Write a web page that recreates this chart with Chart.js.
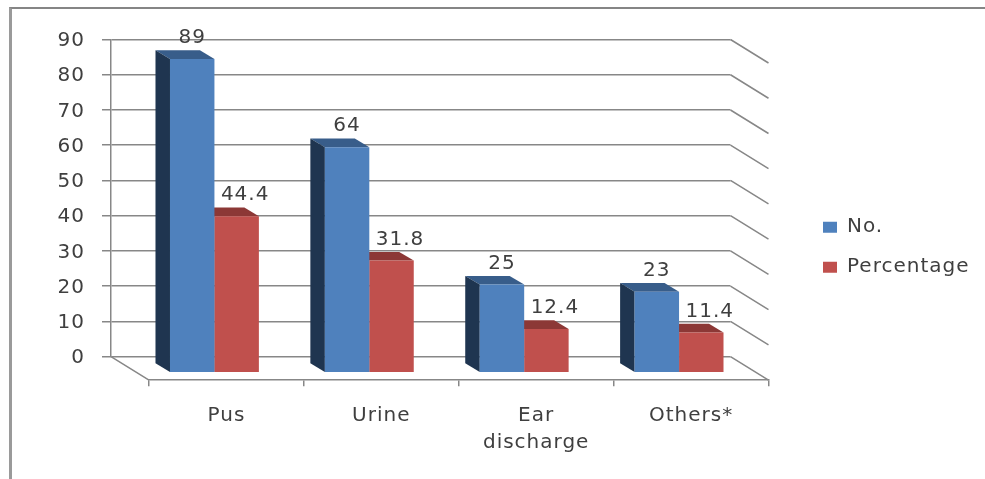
<!DOCTYPE html>
<html>
<head>
<meta charset="utf-8">
<title>Samples</title>
<style>
    html, body { margin: 0; padding: 0; background: #fff; overflow: hidden; }
    #wrap { position: relative; width: 985px; height: 479px; }
    #bars { position: absolute; left: 0; top: 0; filter: blur(0.4px); }
    #frame { position: absolute; left: 9px; top: 7px; right: 0; bottom: 0; border-left: 3px solid #9a9a9a; border-top: 2px solid #858585; }
</style>
<script src="https://cdn.jsdelivr.net/npm/chart.js@4/dist/chart.umd.min.js"></script>
</head>
<body>
<div id="wrap">
    <div id="frame"></div>
    <canvas id="bars" width="985" height="479"></canvas>
</div>
<script>
const categories = ['Pus', 'Urine', ['Ear', 'discharge'], 'Others*'];
const counts = [89, 64, 25, 23];
const percentages = [44.4, 31.8, 12.4, 11.4];
const yTickStep = 10;
const yMax = 90;

const gridColor = '#878787';
const textColor = '#3f3f3f';
const font = { family: 'DejaVu Sans', size: 20 };

// fake 3D: how far the floor and the bars sit in front of the back wall
const wallDx = 38, wallDy = 23.5;
const barDx = 26, barDy = 16;
const sideDx = 14.5, sideDy = 8.7;

const barFaces = [
    { top: '#385d8a', side: '#1f3550' },
    { top: '#8c3836', side: '#8c3836' }
];

function polygon(ctx, color, pts) {
    ctx.fillStyle = color;
    ctx.beginPath();
    pts.forEach((p, i) => i ? ctx.lineTo(p[0], p[1]) : ctx.moveTo(p[0], p[1]));
    ctx.closePath();
    ctx.fill();
}

const fake3d = {
    id: 'fake3d',
    beforeUpdate(chart) {
        chart.ctx.letterSpacing = '1px';
    },
    beforeDraw(chart) {
        chart.ctx.letterSpacing = '1px';
    },
    afterLayout(chart) {
        // front edge of the floor is the category axis, moved forward
        const front = chart.scales.xFront;
        front.left += wallDx;
        front.right += wallDx;
        front.top += wallDy;
        front.bottom += wallDy;
        front.configure();
        // legend clips to its own box, so move the whole box
        const legend = chart.legend;
        const w = legend.right - legend.left;
        legend.left = 803;
        legend.right = 803 + w;
        legend.top -= 12;
        legend.bottom -= 12;
    },
    beforeDatasetsDraw(chart) {
        const ctx = chart.ctx, y = chart.scales.y, area = chart.chartArea;
        ctx.save();
        ctx.strokeStyle = gridColor;
        ctx.lineWidth = 1.5;
        ctx.beginPath();
        y.ticks.forEach(t => {
            const py = y.getPixelForValue(t.value);
            ctx.moveTo(area.right, py);
            ctx.lineTo(area.right + wallDx, py + wallDy);
        });
        ctx.moveTo(area.left, area.bottom);
        ctx.lineTo(area.left + wallDx, area.bottom + wallDy);
        ctx.stroke();
        ctx.restore();
    },
    beforeDatasetDraw(chart, args) {
        const ctx = chart.ctx, faces = barFaces[args.index];
        ctx.save();
        ctx.translate(barDx, barDy);
        args.meta.data.forEach(bar => {
            const l = bar.x - bar.width / 2, r = bar.x + bar.width / 2;
            polygon(ctx, faces.top, [[l, bar.y], [r, bar.y], [r - sideDx, bar.y - sideDy], [l - sideDx, bar.y - sideDy]]);
            polygon(ctx, faces.side, [[l, bar.y], [l - sideDx, bar.y - sideDy], [l - sideDx, bar.base - sideDy], [l, bar.base]]);
        });
    },
    afterDatasetDraw(chart) {
        chart.ctx.restore();
    },
    afterDatasetsDraw(chart) {
        const ctx = chart.ctx;
        ctx.save();
        ctx.font = `${font.size}px "${font.family}"`;
        ctx.fillStyle = textColor;
        ctx.textAlign = 'center';
        ctx.textBaseline = 'middle';
        chart.data.datasets.forEach((ds, i) => {
            chart.getDatasetMeta(i).data.forEach((bar, j) => {
                const nudge = i === 1 ? 8.5 : 0;
                ctx.fillText(String(ds.data[j]), bar.x + barDx + nudge, bar.y + barDy - 21);
            });
        });
        ctx.restore();
    }
};

new Chart(document.getElementById('bars'), {
    type: 'bar',
    data: {
        labels: categories,
        datasets: [
            { label: 'No.', data: counts, backgroundColor: '#4f81bd', borderWidth: 0 },
            { label: 'Percentage', data: percentages, backgroundColor: '#c0504d', borderWidth: 0 }
        ]
    },
    options: {
        responsive: false,
        animation: false,
        devicePixelRatio: 1,
        layout: { padding: { left: 51, top: 39.5, right: 78, bottom: 0 } },
        datasets: { bar: { categoryPercentage: 0.574, barPercentage: 1 } },
        plugins: {
            tooltip: { enabled: false },
            legend: {
                position: 'right',
                labels: { boxWidth: 14, boxHeight: 11, padding: 20, color: textColor, font }
            }
        },
        scales: {
            x: { display: false, offset: true },
            xFront: {
                type: 'category',
                axis: 'x',
                position: 'bottom',
                offset: true,
                grid: { offset: true, drawOnChartArea: false, tickLength: 6, color: gridColor, lineWidth: 1.5 },
                border: { color: gridColor, width: 1.5 },
                ticks: { color: textColor, font: { ...font, lineHeight: 1.35 }, padding: 16, maxRotation: 0, autoSkip: false },
                afterFit: s => { s.height = 122.3; }
            },
            y: {
                min: 0,
                max: yMax,
                grid: { tickLength: 9, color: gridColor, lineWidth: 1.5 },
                border: { color: gridColor, width: 1.5 },
                ticks: { stepSize: yTickStep, color: textColor, font, padding: 17, labelOffset: 1.5 },
                afterFit: s => { s.width = 60; }
            }
        }
    },
    plugins: [fake3d]
});
</script>
</body>
</html>
